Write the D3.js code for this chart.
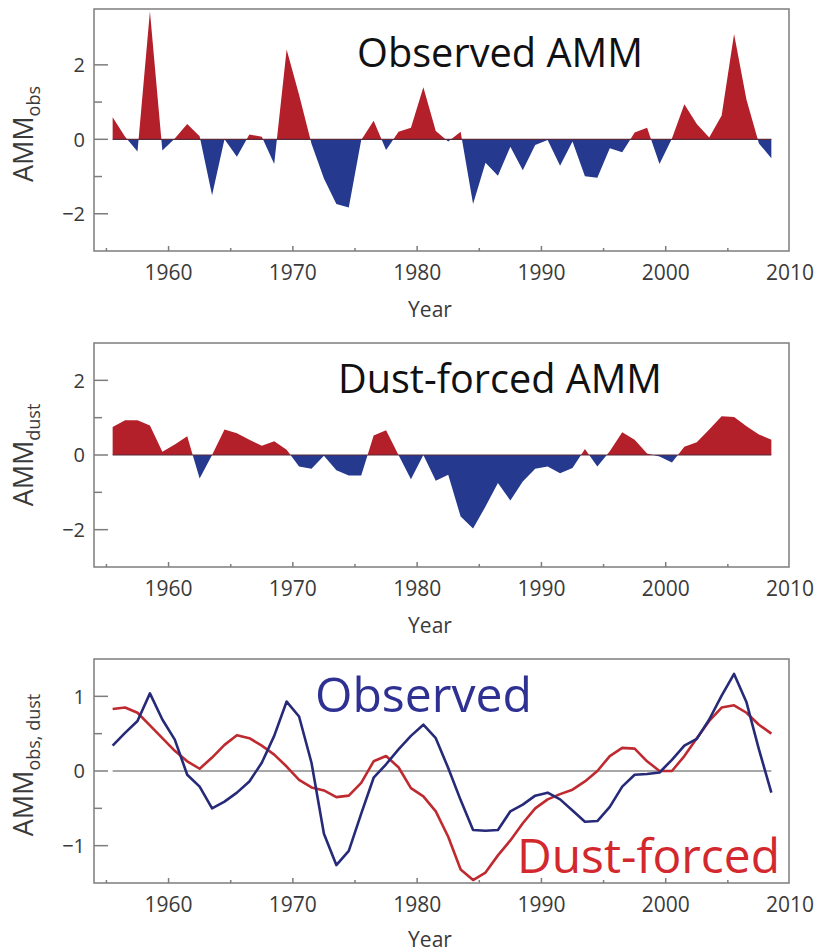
<!DOCTYPE html>
<html>
<head>
<meta charset="utf-8">
<script src="https://cdn.jsdelivr.net/npm/d3@7"></script>
<style>
  body { margin: 0; background: #fff; }
  svg { display: block; }
  text { font-family: "Open Sans", "Noto Sans", sans-serif; }
</style>
</head>
<body>
<div id="graphic"></div>
<script>
// Years (each value plotted at mid-year)
var years = d3.range(1955, 2009);

// Observed AMM index
var ammObs = [
  0.59, 0.07, -0.33, 3.44, -0.30, 0.02, 0.41, 0.08, -1.50, 0.00,
  -0.47, 0.13, 0.07, -0.66, 2.41, 1.20, -0.12, -1.05, -1.74, -1.83,
  -0.02, 0.50, -0.29, 0.20, 0.31, 1.40, 0.22, -0.06, 0.20, -1.74,
  -0.63, -0.98, -0.20, -0.83, -0.15, -0.02, -0.71, -0.06, -0.99, -1.03,
  -0.24, -0.35, 0.18, 0.31, -0.66, 0.02, 0.94, 0.41, 0.05, 0.64,
  2.83, 1.06, -0.11, -0.51
];

// Dust-forced AMM index
var ammDust = [
  0.75, 0.93, 0.93, 0.79, 0.09, 0.28, 0.50, -0.63, 0.00, 0.68,
  0.58, 0.41, 0.25, 0.37, 0.14, -0.31, -0.37, -0.02, -0.41, -0.55,
  -0.55, 0.52, 0.66, 0.00, -0.65, 0.00, -0.69, -0.53, -1.65, -1.97,
  -1.38, -0.75, -1.22, -0.71, -0.37, -0.31, -0.49, -0.35, 0.16, -0.31,
  0.10, 0.61, 0.41, 0.04, -0.04, -0.20, 0.22, 0.34, 0.68, 1.04,
  1.02, 0.77, 0.55, 0.41
];

// Smoothed observed and dust-forced series (bottom panel)
var smoothObs = [
  0.34, 0.51, 0.67, 1.04, 0.69, 0.42, -0.05, -0.21, -0.50, -0.41,
  -0.29, -0.14, 0.11, 0.47, 0.93, 0.73, 0.11, -0.84, -1.26, -1.07,
  -0.57, -0.09, 0.09, 0.29, 0.47, 0.62, 0.44, 0.04, -0.39, -0.79,
  -0.80, -0.79, -0.54, -0.45, -0.33, -0.29, -0.38, -0.53, -0.68, -0.67,
  -0.48, -0.21, -0.05, -0.04, -0.02, 0.15, 0.34, 0.43, 0.69, 1.01,
  1.30, 0.92, 0.29, -0.29
];
var smoothDust = [
  0.83, 0.85, 0.78, 0.61, 0.44, 0.27, 0.13, 0.03, 0.18, 0.35,
  0.48, 0.44, 0.34, 0.22, 0.06, -0.12, -0.22, -0.26, -0.35, -0.33,
  -0.16, 0.13, 0.20, 0.05, -0.23, -0.34, -0.54, -0.88, -1.32, -1.46,
  -1.36, -1.13, -0.93, -0.70, -0.50, -0.38, -0.31, -0.25, -0.14, 0.00,
  0.20, 0.31, 0.30, 0.13, 0.00, 0.00, 0.20, 0.44, 0.67, 0.85,
  0.88, 0.78, 0.62, 0.50
];

var xMajorTicks = [1960, 1970, 1980, 1990, 2000, 2010];
var xMinorTicks = [1955, 1965, 1975, 1985, 1995, 2005];

var RED = '#b3202a';
var BLUE = '#25398f';
var FRAME = '#7d7d7d';
var TICKTEXT = '#3a3a3a';

var width = 817, height = 952;
var left = 94, right = 790;

var svg = d3.select('#graphic').append('svg')
  .attr('width', width)
  .attr('height', height);

var x = d3.scaleLinear().domain([1954, 2010]).range([left, right]);

// fit text to a target width by scaling font size
var fitText = function (sel, target) {
  var len = sel.node().getComputedTextLength();
  var fs = parseFloat(sel.attr('font-size'));
  sel.attr('font-size', fs * target / len);
};

var drawFrame = function (g, y, cfg) {
  var top = cfg.top, bottom = cfg.bottom;

  // y ticks (inward)
  cfg.major.forEach(function (v) {
    g.append('line')
      .attr('x1', left).attr('x2', left + 14)
      .attr('y1', y(v)).attr('y2', y(v))
      .attr('stroke', FRAME).attr('stroke-width', 1.5);
    g.append('text')
      .attr('x', left - 9).attr('y', y(v))
      .attr('dy', '0.36em')
      .attr('text-anchor', 'end')
      .attr('font-size', 20)
      .attr('fill', TICKTEXT)
      .text(v < 0 ? '\u2212' + Math.abs(v) : v);
  });
  cfg.minor.forEach(function (v) {
    g.append('line')
      .attr('x1', left).attr('x2', left + 8)
      .attr('y1', y(v)).attr('y2', y(v))
      .attr('stroke', FRAME).attr('stroke-width', 1.5);
  });

  // x ticks (inward)
  xMajorTicks.forEach(function (t) {
    if (t < 2010) {
      g.append('line')
        .attr('x1', x(t)).attr('x2', x(t))
        .attr('y1', bottom).attr('y2', bottom - 5)
        .attr('stroke', FRAME).attr('stroke-width', 1.5);
    }
    g.append('text')
      .attr('x', x(t)).attr('y', bottom + 29)
      .attr('text-anchor', 'middle')
      .attr('font-size', 21)
      .attr('fill', TICKTEXT)
      .text(t);
  });
  xMinorTicks.forEach(function (t) {
    g.append('line')
      .attr('x1', x(t)).attr('x2', x(t))
      .attr('y1', bottom).attr('y2', bottom - 3)
      .attr('stroke', FRAME).attr('stroke-width', 1.5);
  });

  g.append('rect')
    .attr('x', left).attr('y', top)
    .attr('width', right - 1 - left).attr('height', bottom - top)
    .attr('fill', 'none')
    .attr('stroke', FRAME).attr('stroke-width', 1.5);

  g.append('text')
    .attr('x', 430).attr('y', Math.min(bottom + 66, 947))
    .attr('text-anchor', 'middle')
    .attr('font-size', 21)
    .attr('fill', TICKTEXT)
    .text('Year');

  // y label with subscript
  var yl = g.append('text')
    .attr('transform', 'translate(' + 33 + ',' + ((top + bottom) / 2 + cfg.labelShift) + ') rotate(-90)')
    .attr('text-anchor', 'middle')
    .attr('font-size', 27)
    .attr('fill', TICKTEXT);
  yl.append('tspan').text('AMM');
  yl.append('tspan').attr('font-size', 18).attr('dy', 7).text(cfg.sub);
};

var drawAreaPanel = function (cfg, values, idx) {
  var g = svg.append('g');
  var y = d3.scaleLinear().domain(cfg.domain).range([cfg.bottom, cfg.top]);

  var area = d3.area()
    .x(function (d, i) { return x(years[i] + 0.5); })
    .y0(y(0))
    .y1(function (d) { return y(d); });

  var clipUp = 'clip-up-' + idx, clipDown = 'clip-down-' + idx;
  var defs = svg.append('defs');
  defs.append('clipPath').attr('id', clipUp).append('rect')
    .attr('x', left).attr('y', cfg.top)
    .attr('width', right - left).attr('height', y(0) - cfg.top);
  defs.append('clipPath').attr('id', clipDown).append('rect')
    .attr('x', left).attr('y', y(0))
    .attr('width', right - left).attr('height', cfg.bottom - y(0));

  g.append('path').datum(values)
    .attr('d', area)
    .attr('fill', RED)
    .attr('clip-path', 'url(#' + clipUp + ')');
  g.append('path').datum(values)
    .attr('d', area)
    .attr('fill', BLUE)
    .attr('clip-path', 'url(#' + clipDown + ')');

  g.append('line')
    .attr('x1', x(years[0] + 0.5)).attr('x2', x(years[years.length - 1] + 0.5))
    .attr('y1', y(0)).attr('y2', y(0))
    .attr('stroke', '#5a2a3a').attr('stroke-width', 1.2);

  drawFrame(g, y, cfg);
  return g;
};

// Panel 1
var g1 = drawAreaPanel({
  top: 9, bottom: 251, domain: [-3, 3.5],
  major: [-2, 0, 2], minor: [-1, 1], sub: 'obs', labelShift: 4
}, ammObs, 1);
var t1 = g1.append('text')
  .attr('x', 357).attr('y', 67)
  .attr('font-size', 40).attr('fill', '#111')
  .text('Observed AMM');
fitText(t1, 286);

// Panel 2
var g2 = drawAreaPanel({
  top: 343, bottom: 567, domain: [-3, 3],
  major: [-2, 0, 2], minor: [-1, 1], sub: 'dust', labelShift: 0
}, ammDust, 2);
var t2 = g2.append('text')
  .attr('x', 338).attr('y', 393)
  .attr('font-size', 40).attr('fill', '#111')
  .text('Dust-forced AMM');
fitText(t2, 324);

// Panel 3
var cfg3 = {
  top: 659, bottom: 883, domain: [-1.5, 1.5],
  major: [-1, 0, 1], minor: [-0.5, 0.5], sub: 'obs, dust', labelShift: -6
};
var g3 = svg.append('g');
var y3 = d3.scaleLinear().domain(cfg3.domain).range([cfg3.bottom, cfg3.top]);

g3.append('line')
  .attr('x1', x(years[0] + 0.5)).attr('x2', x(years[years.length - 1] + 0.5))
  .attr('y1', y3(0)).attr('y2', y3(0))
  .attr('stroke', '#8a8a8a').attr('stroke-width', 1.5);

var line3 = d3.line()
  .x(function (d, i) { return x(years[i] + 0.5); })
  .y(function (d) { return y3(d); });

g3.append('path').datum(smoothDust)
  .attr('d', line3)
  .attr('fill', 'none')
  .attr('stroke', '#bf2a30').attr('stroke-width', 2.6)
  .attr('stroke-linejoin', 'round');
g3.append('path').datum(smoothObs)
  .attr('d', line3)
  .attr('fill', 'none')
  .attr('stroke', '#262a78').attr('stroke-width', 2.6)
  .attr('stroke-linejoin', 'round');

drawFrame(g3, y3, cfg3);

var t3 = g3.append('text')
  .attr('x', 315).attr('y', 712)
  .attr('font-size', 50).attr('fill', '#2e3192')
  .text('Observed');
fitText(t3, 217);
var t4 = g3.append('text')
  .attr('x', 517).attr('y', 873)
  .attr('font-size', 50).attr('fill', '#d2282e')
  .text('Dust-forced');
fitText(t4, 263);
</script>
</body>
</html>
